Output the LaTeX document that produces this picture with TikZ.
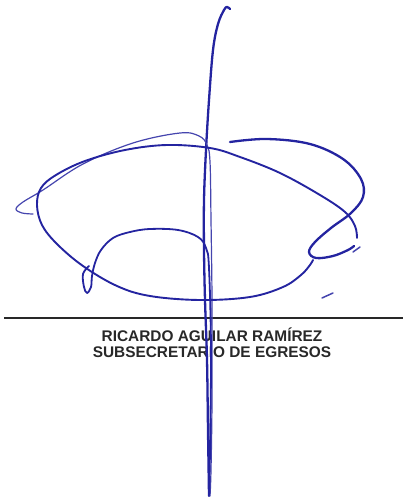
\documentclass[tikz,border=0pt]{standalone}
\usepackage{fontspec}
\setmainfont{Liberation Sans}
\usetikzlibrary{positioning}

\definecolor{inkblue}{RGB}{36,36,160}
\definecolor{printgray}{RGB}{40,40,40}

\begin{document}
\begin{tikzpicture}[x=1pt,y=-1pt,
    ink/.style={draw=inkblue, line width=2.3pt, line cap=round, line join=round},
    inkthin/.style={ink, line width=1.2pt, draw=inkblue!85},
    label/.style={font=\fontsize{15.4}{18}\selectfont\bfseries, text=printgray, inner sep=0pt}]
    \useasboundingbox (0,0) rectangle (403,497);

    % signature line and printed name
    \coordinate (lineL) at (4,318);
    \coordinate (lineR) at (403,318);
    \draw [printgray, line width=1.5pt] (lineL) -- (lineR);
    \node (name) [label] at (212,335) {RICARDO AGUILAR RAMÍREZ};
    \node (title) [label, below =4pt of name] {SUBSECRETARIO DE EGRESOS};

    % signature strokes
    \draw [ink] plot[smooth, tension=0.6] coordinates {(230,9) (227,7) (224,10) (218,24) (213,50) (209,100) (206,150) (204,200) (204,250) (205,300) (207,360) (208,430) (209,496)};
    \draw [inkthin] plot[smooth, tension=0.6] coordinates {(33,214) (22,213) (16,209) (23,202) (43,190) (83,164) (133,143) (180,133) (199,136) (207,145) (210,162) (211,220) (212,300) (212,400) (211,470) (210,496)};
    \draw [ink, line width=1.9pt] plot[smooth, tension=0.6] coordinates {(357,238) (355,226) (345,212) (320,195) (280,173) (240,157) (210,148) (167,145) (125,150) (85,161) (56,175) (41,188) (37,205) (42,225) (57,244) (83,266) (117,286) (150,296) (200,300) (250,297) (283,287) (301,275) (310,265) (313,260)};
    \draw [ink] plot[smooth, tension=0.6] coordinates {(230,142) (267,139) (310,144) (343,159) (361,179) (363,197) (351,213) (331,228) (315,242) (309,252) (316,258) (333,256) (348,250) (354,246)};
    \draw [ink, line width=1.8pt] plot[smooth, tension=0.6] coordinates {(89,266) (83,274) (84,287) (87,293) (91,287) (92,276) (95,263) (101,250) (113,238) (130,232) (150,229) (178,230) (198,237) (206,248) (209,268) (211,350) (210,450) (209,495)};
    \draw [inkthin, line width=1.5pt] (353,252) -- (360,247);
    \draw [inkthin, line width=1.5pt] (322,298) -- (333,293);
\end{tikzpicture}
\end{document}
